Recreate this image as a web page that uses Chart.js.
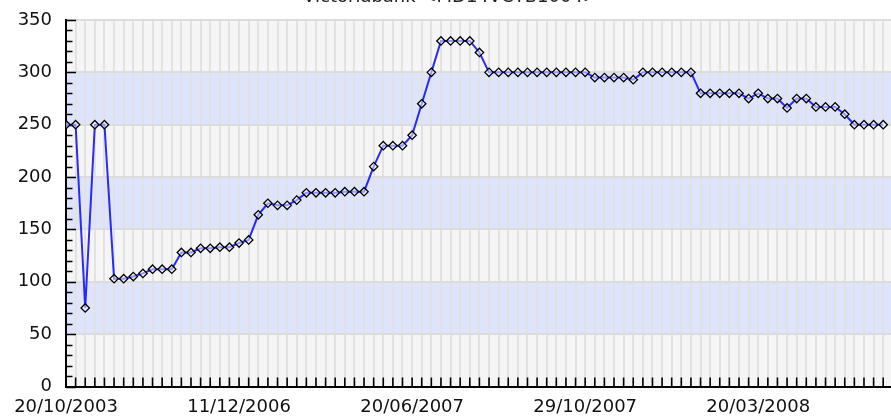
<!DOCTYPE html>
<html><head><meta charset="utf-8">
<script src="https://cdn.jsdelivr.net/npm/chart.js@4"></script>
<style>
html,body{margin:0;padding:0;background:#fff;overflow:hidden;width:891px;height:416px;}
#wrap{position:relative;width:906px;height:446px;margin-top:-30px;}
canvas{display:block;}
</style></head><body>
<div id="wrap"><canvas id="c" width="906" height="446"></canvas></div>
<script>
const titleText = 'Victoriabank <MD14VCTB1004>';
const values = [250,250,75,250,250,103,103,105,108,112,112,112,128,128,
  132,132,133,133,137,140,164,175,173,173,178,185,185,185,185,186,186,186,
  210,230,230,230,240,270,300,330,330,330,330,319,
  300,300,300,300,300,300,300,300,300,300,300,
  295,295,295,295,293,300,300,300,300,300,300,
  280,280,280,280,280,275,280,275,275,266,275,275,267,267,267,260,
  250,250,250,250];
const tickIndexes = [0,18,36,54,72];
const tickLabels = ['20/10/2003','11/12/2006','20/06/2007','29/10/2007','20/03/2008'];
const yLabelStep = 50;
const yMinorStep = 10;

const FONT = {family:'"DejaVu Sans", Verdana, sans-serif', size:18, weight:'normal'};

const bandsPlugin = {
  id:'bands',
  beforeDraw(chart){
    const {ctx, chartArea:a, scales:{y}} = chart;
    ctx.save();
    for (let v = y.min, k = 0; v < y.max; v += yLabelStep, k++){
      const top = y.getPixelForValue(v + yLabelStep), bot = y.getPixelForValue(v);
      ctx.fillStyle = (k % 2 === 0) ? '#f5f5f5' : '#dde4fc';
      ctx.fillRect(a.left, top, a.right - a.left, bot - top);
    }
    ctx.restore();
  }
};
const innerTicks = {
  id:'innerTicks',
  beforeDatasetsDraw(chart){
    const {ctx, chartArea:a, scales:{x,y}} = chart;
    ctx.save();
    ctx.strokeStyle = '#000';
    ctx.lineWidth = 1.6;
    ctx.beginPath();
    for (let v = y.min; v <= y.max; v += yMinorStep){
      const py = Math.round(y.getPixelForValue(v)) + 0.5;
      const len = (v % yLabelStep === 0) ? 10 : 6.5;
      ctx.moveTo(a.left, py); ctx.lineTo(a.left + len, py);
    }
    x.ticks.forEach(t => {
      if (t.value === x.min) return;
      const px = x.getPixelForValue(t.value);
      ctx.moveTo(px, a.bottom); ctx.lineTo(px, a.bottom - 9);
    });
    ctx.stroke();
    ctx.restore();
  }
};

new Chart(document.getElementById('c'), {
  type:'line',
  data:{
    datasets:[{
      data: values.map((v,i)=>({x:i, y:v})),
      borderColor:'rgba(20,20,255,0.9)',
      borderWidth:2,
      tension:0,
      pointStyle:'rectRot',
      pointRadius:4.2,
      pointBorderColor:'#000',
      pointBorderWidth:1.3,
      pointBackgroundColor:'rgba(255,255,255,0.5)'
    }]
  },
  options:{
    responsive:false,
    devicePixelRatio:1,
    animation:false,
    layout:{padding:{left:0,right:5,top:0,bottom:0}},
    plugins:{
      legend:{display:false},
      tooltip:{enabled:false},
      title:{display:true, text:titleText, font:FONT, color:'#222', padding:{top:16.5,bottom:11.9}}
    },
    scales:{
      x:{type:'linear', min:0, max:86.33,
        ticks:{stepSize:1, autoSkip:false, maxRotation:0, minRotation:0, padding:10, font:FONT, color:'#111',
          callback:(v)=>{const k = tickIndexes.indexOf(v); return k >= 0 ? tickLabels[k] : '';}},
        grid:{color:'#e2e2e2', lineWidth:2, drawTicks:false},
        border:{color:'#000', width:2},
        afterFit:(s)=>{s.height = 29.5;}
      },
      y:{min:0, max:350,
        ticks:{stepSize:yLabelStep, padding:14, font:FONT, color:'#111'},
        grid:{color:'#dcdcdc', lineWidth:2, drawTicks:false},
        border:{color:'#000', width:2},
        afterFit:(s)=>{s.width = 66;}
      }
    }
  },
  plugins:[bandsPlugin, innerTicks]
});
</script>
</body></html>
